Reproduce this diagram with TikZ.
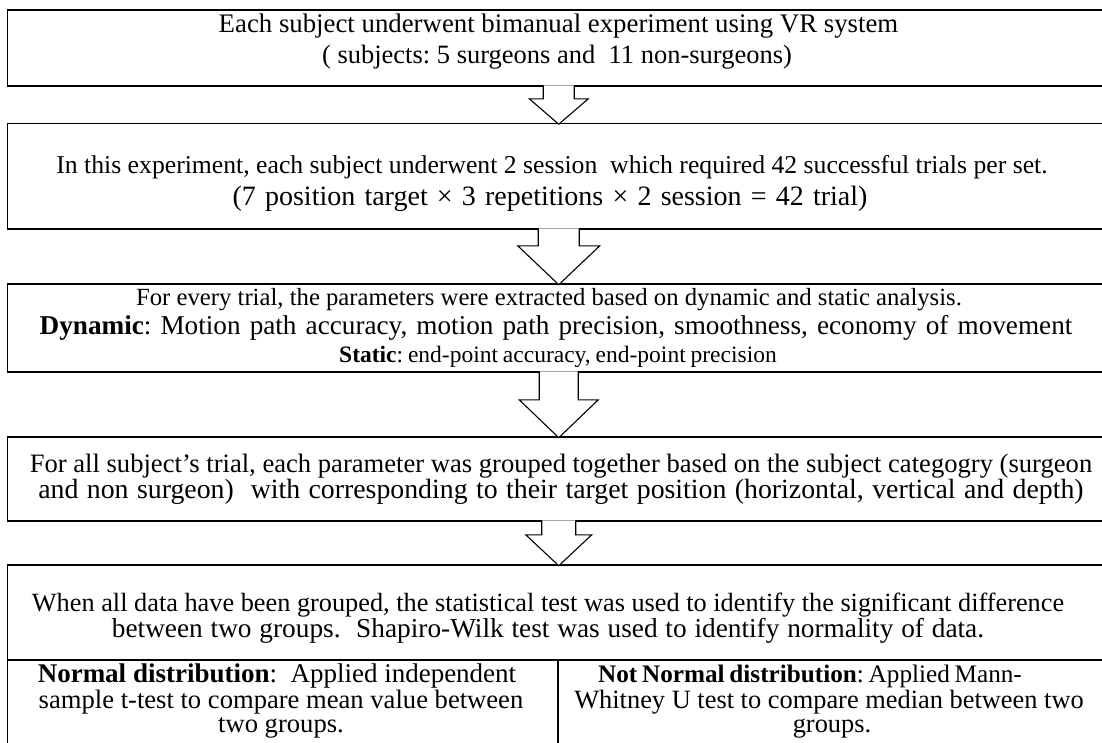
\documentclass[tikz,border=0pt]{standalone}
\usepackage{fontspec}
\setmainfont{Liberation Serif}
\usetikzlibrary{calc,fit}
\newcommand{\blkarrow}[5]{%
  \path[blk] ($(#1.south)+(-#3,-1.5)$) -- ++(0,{#5+1.5}) -- ++({-(#4-#3)},0) -- ($(#2.north)+(0,1.5)$)
    -- ($(#1.south)+(#4,#5)$) -- ++({-(#4-#3)},0) -- ++(0,{-#5-1.5});}
\newcommand{\fs}[2]{\fontsize{#1}{#1}\selectfont\frenchspacing\spaceskip=\dimexpr\fontdimen2\font+#2pt\relax}
\begin{document}
\begin{tikzpicture}[x=1pt,y=-1pt,
  box/.style={draw, line width=1.6pt, inner sep=0pt},
  blk/.style={draw, fill=white, line width=1.1pt, line join=miter},
  txt/.style={anchor=base, inner sep=0pt}]
\useasboundingbox (0,0) rectangle (1102,742);
\clip (0,0) rectangle (1102,742);
\fill[white] (0,0) rectangle (1102,742);
% boxes
\node[box, fit={(7.5,10) (1110,86)}] (b1) {};
\node[box, fit={(7.5,123.5) (1110,229)}] (b2) {};
\node[box, fit={(7.5,284) (1110,372)}] (b3) {};
\node[box, fit={(7.5,437) (1110,521)}] (b4) {};
\node[box, fit={(7.5,565) (1110,760)}] (b5) {};
\coordinate (d1) at (7.5,660);
\coordinate (d2) at (558,660);
\draw[line width=1.6pt] (d1) -- (d1 -| b5.east);
\draw[line width=1.6pt] (d2) -- (d2 |- b5.south);
% block arrows
\blkarrow{b1}{b2}{15.5}{29.5}{12}
\blkarrow{b2}{b3}{20.5}{41}{16}
\blkarrow{b3}{b4}{19.5}{39.5}{27}
\blkarrow{b4}{b5}{17}{33}{13}
% texts
\node[txt, font=\fs{26.8}{0}] (t1a) at (558.5,32) {Each subject underwent bimanual experiment using VR system};
\node[txt, font=\fs{26.5}{0}] (t1b) at (557,63) {( subjects: 5 surgeons and\ \ 11 non-surgeons)};
\node[txt, font=\fs{25.7}{0}] (t2a) at (552,173) {In this experiment, each subject underwent 2 session\ \ which required 42 successful trials per set.};
\node[txt, font=\fs{28}{2.2}] (t2b) at (550,205) {(7 position target × 3 repetitions × 2 session = 42 trial)};
\node[txt, font=\fs{24.7}{0}] (t3a) at (549,305) {For every trial, the parameters were extracted based on dynamic and static analysis.};
\node[txt, font=\fs{27.2}{2.3}] (t3b) at (556,334) {\textbf{Dynamic}: Motion path accuracy, motion path precision, smoothness, economy of movement};
\node[txt, font=\fs{23.5}{-1}] (t3c) at (558,362) {\textbf{Static}: end-point accuracy, end-point precision};
\node[txt, font=\fs{26.6}{0}] (t4a) at (561,472) {For all subject's trial, each parameter was grouped together based on the subject categogry (surgeon};
\node[txt, font=\fs{27.8}{1.5}] (t4b) at (561,498) {and non surgeon)\ \ with corresponding to their target position (horizontal, vertical and depth)};
\node[txt, align=center] (t5) at (548,637) {{\fs{26.3}{0}When all data have been grouped, the statistical test was used to identify the significant difference}\\[0pt]
  {\fs{27.3}{1}between two groups.\ \ Shapiro-Wilk test was used to identify normality of data.}};
\node[txt, font=\fs{27}{0}] (t6a) at (277,682) {\textbf{Normal distribution}:\ \ Applied independent};
\node[txt, font=\fs{26.6}{0}] (t6b) at (281,708) {sample t-test to compare mean value between};
\node[txt, font=\fs{26.6}{0}] (t6c) at (281,732) {two groups.};
\node[txt, font=\fs{25.2}{-1.5}] (t7a) at (810,682) {\textbf{Not Normal distribution}: Applied Mann-};
\node[txt, font=\fs{26.4}{0}] (t7b) at (829,708) {Whitney U test to compare median between two};
\node[txt, font=\fs{26.4}{0}] (t7c) at (832,732) {groups.};
\end{tikzpicture}
\end{document}
